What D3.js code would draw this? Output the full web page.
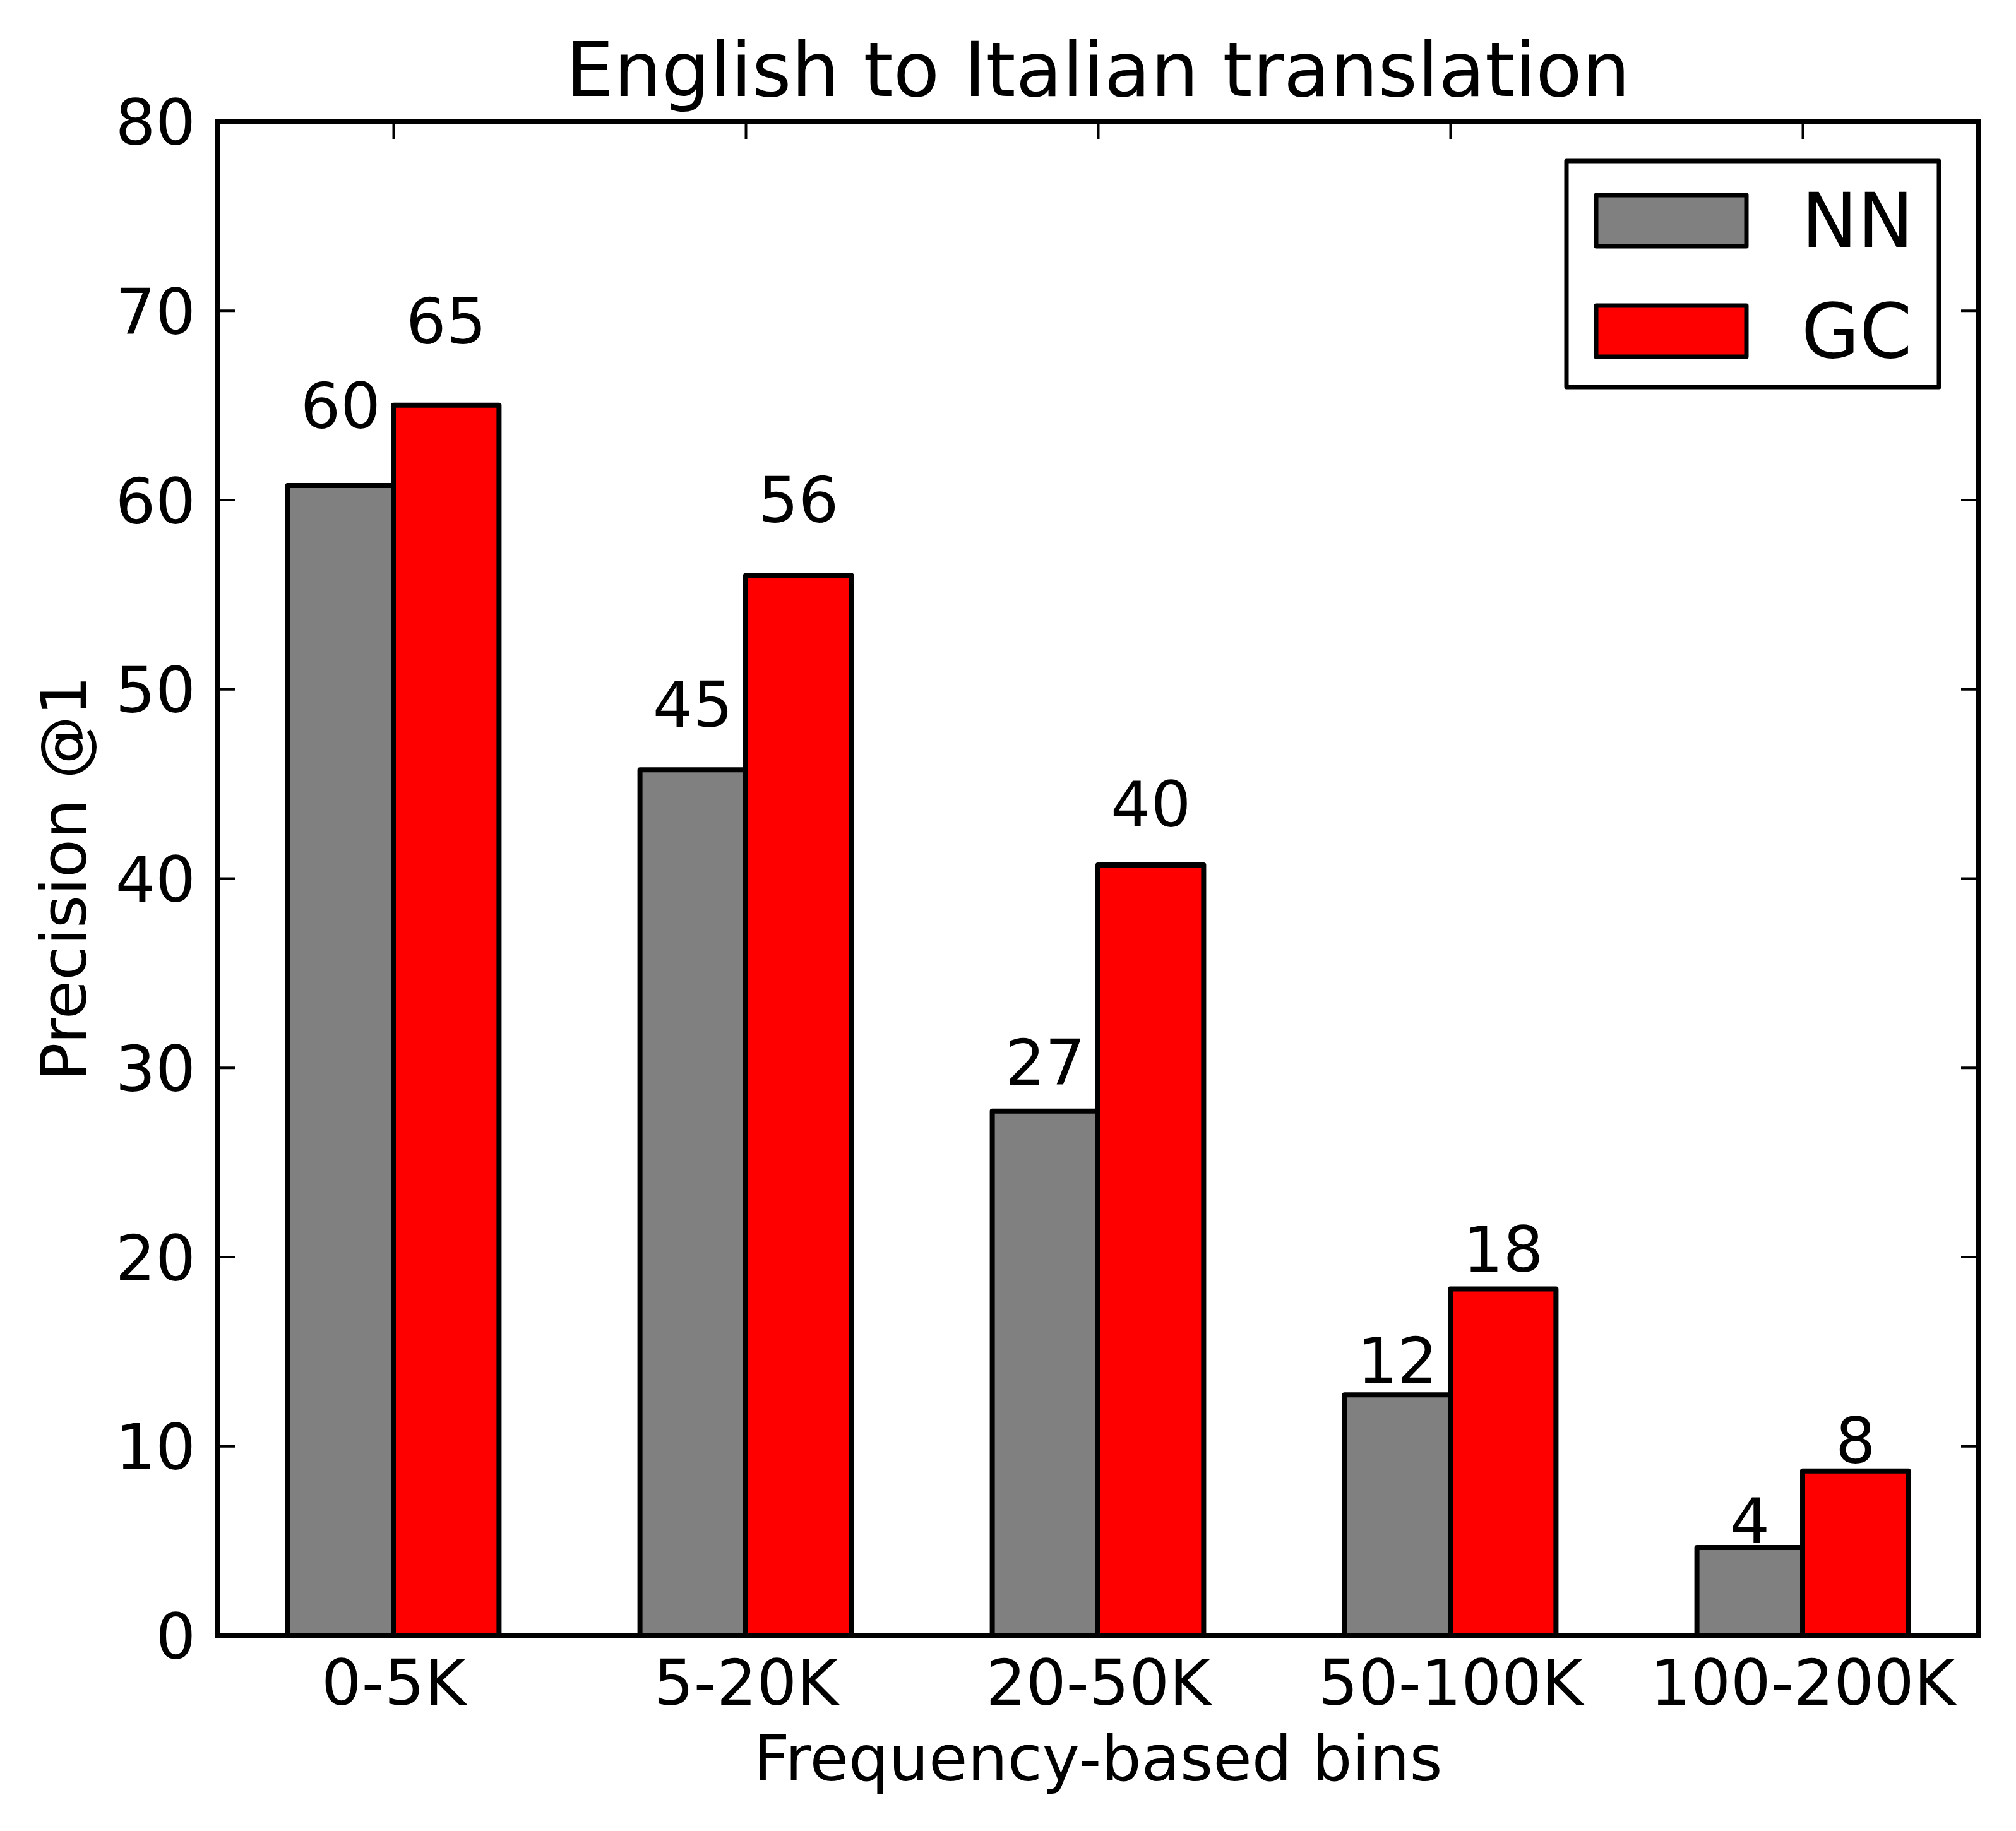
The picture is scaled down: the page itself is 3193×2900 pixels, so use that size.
<!DOCTYPE html>
<html>
<head>
<meta charset="utf-8">
<script src="https://cdn.jsdelivr.net/npm/d3@7/dist/d3.min.js"></script>
<style>
  html, body { margin: 0; padding: 0; background: #fff; }
  svg text { font-family: "DejaVu Sans", sans-serif; fill: #000; }
</style>
</head>
<body>
<div id="chart"></div>
<script>
const categories = ['0-5K', '5-20K', '20-50K', '50-100K', '100-200K'];
const seriesNames = ['NN', 'GC'];
const nnValues = [60.75, 45.73, 27.7, 12.7, 4.64];
const gcValues = [65.0, 56.0, 40.7, 18.3, 8.68];
const yTicks = [0, 10, 20, 30, 40, 50, 60, 70, 80];

const WIDTH = 3193;
const HEIGHT = 2900;
const MARGIN = { top: 192, right: 59, bottom: 310, left: 344 };
const COLORS = { NN: '#808080', GC: '#ff0000' };
const BAR_W = 0.3;
const FONT = '100px';

const innerW = WIDTH - MARGIN.left - MARGIN.right;
const innerH = HEIGHT - MARGIN.top - MARGIN.bottom;

const svg = d3.select('#chart').append('svg')
  .attr('width', WIDTH).attr('height', HEIGHT)
  .attr('viewBox', `0 0 ${WIDTH} ${HEIGHT}`);
svg.append('rect').attr('width', WIDTH).attr('height', HEIGHT).attr('fill', '#fff');

const g = svg.append('g').attr('transform', `translate(${MARGIN.left},${MARGIN.top})`);

const x = d3.scaleLinear().domain([-0.5, categories.length - 0.5]).range([0, innerW]);
const y = d3.scaleLinear().domain([0, 80]).range([innerH, 0]);

// bars: NN sits left of the tick, GC right of it
const series = [
  { name: 'NN', values: nnValues, offset: -BAR_W },
  { name: 'GC', values: gcValues, offset: 0 },
];
series.forEach((s) => {
  g.append('g').selectAll('rect')
    .data(s.values)
    .join('rect')
    .attr('x', (v, i) => x(i + s.offset))
    .attr('y', (v) => y(v))
    .attr('width', x(BAR_W) - x(0))
    .attr('height', (v) => y(0) - y(v))
    .attr('fill', COLORS[s.name])
    .attr('stroke', '#000').attr('stroke-width', 8)
    .attr('stroke-linejoin', 'round');
});

// value labels at 1.05 * height, bottom aligned
series.forEach((s) => {
  g.append('g').selectAll('text')
    .data(s.values)
    .join('text')
    .attr('x', (v, i) => x(i + s.offset + BAR_W / 2))
    .attr('y', (v) => y(v * 1.05))
    .attr('text-anchor', 'middle')
    .style('font-size', FONT)
    .text((v) => Math.floor(v));
});

// axes with inward ticks on all four sides
const styleAxis = (sel) => {
  sel.select('.domain').remove();
  sel.selectAll('.tick line').attr('stroke', '#000').attr('stroke-width', 4);
  sel.selectAll('.tick text').style('font-size', FONT).attr('fill', '#000');
};

g.append('g')
  .call(d3.axisLeft(y).tickValues(yTicks).tickSizeInner(-28).tickSizeOuter(0).tickPadding(34))
  .call(styleAxis)
  .selectAll('.tick text').attr('dy', '0.365em');

g.append('g').attr('transform', `translate(${innerW},0)`)
  .call(d3.axisRight(y).tickValues(yTicks).tickSizeInner(-28).tickSizeOuter(0).tickFormat(''))
  .call(styleAxis);

g.append('g').attr('transform', `translate(0,${innerH})`)
  .call(d3.axisBottom(x).tickValues(d3.range(categories.length)).tickSizeInner(-28).tickSizeOuter(0)
    .tickPadding(110).tickFormat((d) => categories[d]))
  .call(styleAxis)
  .selectAll('.tick text').attr('dy', 0);

g.append('g')
  .call(d3.axisTop(x).tickValues(d3.range(categories.length)).tickSizeInner(-28).tickSizeOuter(0).tickFormat(''))
  .call(styleAxis);

// frame
g.append('rect')
  .attr('width', innerW).attr('height', innerH)
  .attr('fill', 'none').attr('stroke', '#000').attr('stroke-width', 8);

// labels
svg.append('text')
  .attr('x', MARGIN.left + innerW / 2).attr('y', 152)
  .attr('text-anchor', 'middle').style('font-size', '120px')
  .text('English to Italian translation');

svg.append('text')
  .attr('x', MARGIN.left + innerW / 2).attr('y', 2820)
  .attr('text-anchor', 'middle').style('font-size', FONT)
  .text('Frequency-based bins');

svg.append('text')
  .attr('transform', `translate(136,${MARGIN.top + innerH / 2}) rotate(-90)`)
  .attr('text-anchor', 'middle').style('font-size', FONT)
  .text('Precision @1');

// legend
const legend = svg.append('g').attr('transform', 'translate(2481,255)');
legend.append('rect')
  .attr('width', 590).attr('height', 358)
  .attr('fill', '#fff').attr('stroke', '#000').attr('stroke-width', 7)
  .attr('stroke-linejoin', 'round');
const items = legend.selectAll('g.item')
  .data(seriesNames)
  .join('g').attr('class', 'item')
  .attr('transform', (d, i) => `translate(0,${i * 175})`);
items.append('rect')
  .attr('x', 47).attr('y', 54).attr('width', 238).attr('height', 81)
  .attr('fill', (d) => COLORS[d])
  .attr('stroke', '#000').attr('stroke-width', 7).attr('stroke-linejoin', 'round');
items.append('text')
  .attr('x', 372).attr('y', 136)
  .style('font-size', '119px')
  .text((d) => d);
</script>
</body>
</html>
